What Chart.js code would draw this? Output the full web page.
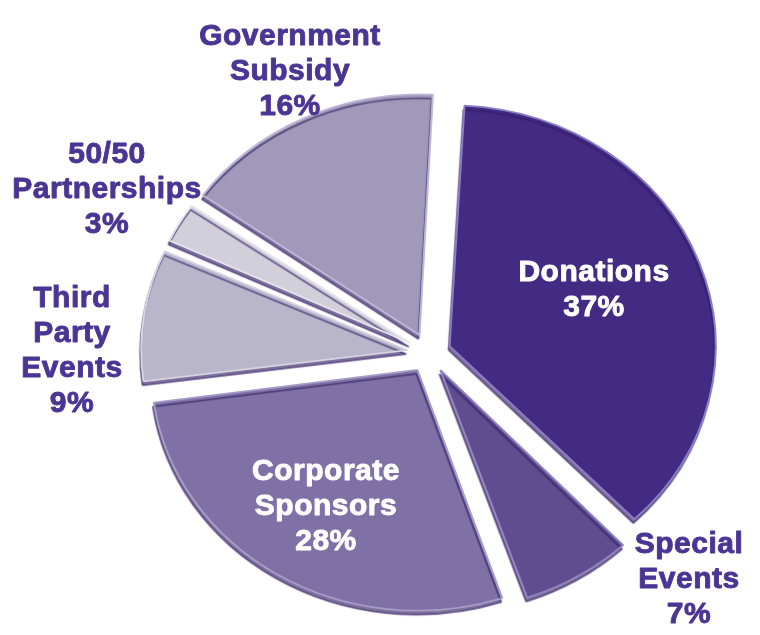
<!DOCTYPE html>
<html>
<head>
<meta charset="utf-8">
<script src="https://cdn.jsdelivr.net/npm/chart.js@4/dist/chart.umd.min.js"></script>
<style>
  html, body { margin: 0; padding: 0; background: #ffffff; }
  #wrap { width: 760px; height: 635px; }
</style>
</head>
<body>
<div id="wrap"><canvas id="c" width="760" height="635"></canvas></div>
<script>
// ---- data ----
const categories = ['Donations', 'Special Events', 'Corporate Sponsors', 'Third Party Events', '50/50 Partnerships', 'Government Subsidy'];
const shares = [37, 7, 28, 9, 3, 16];

// ---- styles ----
const fillColors = ['#432a82', '#5f4d90', '#7f71a6', '#b9b5ca', '#d1d0da', '#a099b9'];
const edgeColors = ['#8a7cc6', '#9184c0', '#a69cc8', '#d6d3e2', '#e6e5ec', '#bdb7d8'];
const labelColors = ['#ffffff', '#4b3594', '#ffffff', '#4b3594', '#4b3594', '#4b3594'];
const labelX = [594, 689, 326, 72, 107, 290];
const labelY = [281, 553, 480, 307, 163, 45];
const lineHeight = 35;
const tilt = 0.905;
const explode = 22;   // pixels each slice is pushed out

// Chart.js translates a slice by offset/4 and also grows its radius by
// (offset/4)*(1-sin(angle)); undo the growth so all slices keep one radius.
const evenRadiusPlugin = {
  id: 'evenRadius',
  afterDatasetUpdate(chart) {
    chart.getDatasetMeta(0).data.forEach(arc => {
      const fix = 1 - Math.sin(Math.min(Math.PI, arc.circumference));
      arc.outerRadius -= explode * fix;
    });
  }
};

const tiltPlugin = {
  id: 'tilt',
  beforeDatasetsDraw(chart) {
    const arc = chart.getDatasetMeta(0).data[0];
    const ctx = chart.ctx;
    ctx.save();
    ctx.translate(arc.x, arc.y);
    ctx.scale(1, tilt);
    ctx.translate(-arc.x, -arc.y);
    ctx.shadowColor = 'rgba(48, 28, 98, 0.62)';
    ctx.shadowBlur = 1;
    ctx.shadowOffsetX = -1;
    ctx.shadowOffsetY = 4;
  },
  afterDatasetsDraw(chart) {
    chart.ctx.restore();
  }
};

const labelPlugin = {
  id: 'sliceLabels',
  afterDraw(chart) {
    const ctx = chart.ctx;
    ctx.save();
    ctx.font = 'bold 30px "Liberation Sans", Arial, sans-serif';
    ctx.textAlign = 'center';
    ctx.textBaseline = 'alphabetic';
    ctx.lineWidth = 0.9;
    ctx.lineJoin = 'round';
    try { ctx.letterSpacing = '0.5px'; } catch (e) {}
    categories.forEach((name, i) => {
      const lines = name.split(' ').concat([shares[i] + '%']);
      ctx.fillStyle = labelColors[i];
      ctx.strokeStyle = labelColors[i];
      lines.forEach((ln, j) => {
        const y = labelY[i] + j * lineHeight;
        ctx.fillText(ln, labelX[i], y);
        ctx.strokeText(ln, labelX[i], y);
      });
    });
    ctx.restore();
  }
};

new Chart(document.getElementById('c'), {
  type: 'pie',
  data: {
    labels: categories,
    datasets: [{
      data: shares,
      backgroundColor: fillColors,
      borderColor: edgeColors,
      borderWidth: 2,
      offset: explode * 4
    }]
  },
  options: {
    responsive: false,
    animation: false,
    events: [],
    rotation: 3,
    radius: 266,
    layout: { padding: { left: 98, top: 71, right: 0, bottom: 0 } },
    plugins: {
      legend: { display: false },
      tooltip: { enabled: false }
    }
  },
  plugins: [evenRadiusPlugin, tiltPlugin, labelPlugin]
});
</script>
</body>
</html>
